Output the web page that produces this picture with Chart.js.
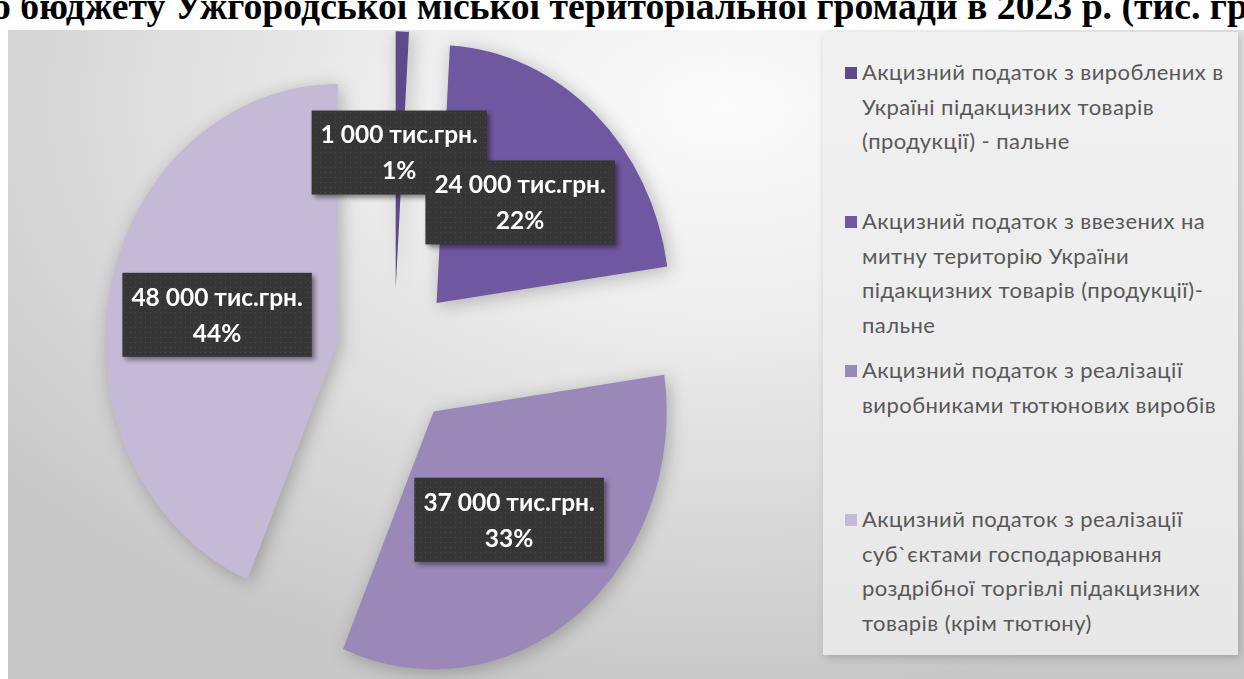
<!DOCTYPE html>
<html>
<head>
<meta charset="utf-8">
<script src="https://cdn.jsdelivr.net/npm/chart.js@4.4.0/dist/chart.umd.min.js"></script>
<style>
  html, body { margin: 0; padding: 0; width: 1244px; height: 679px; overflow: hidden; background: #fff; }
  #title {
    position: absolute; left: -27px; top: -16px; white-space: nowrap; line-height: 38px;
    font: bold 37.7px "Liberation Serif", "DejaVu Serif", serif; color: #000;
  }
  #panel {
    position: absolute; left: 8px; top: 30px; width: 1236px; height: 649px;
    background: radial-gradient(ellipse 75% 90% at 58% 12%, #fbfbfb 0%, #eeeeee 35%, #dcdcdc 65%, #c8c8c8 100%);
  }
  #chartBox { position: absolute; left: 8px; top: 30px; width: 772px; height: 649px; }
  #legend {
    position: absolute; left: 823px; top: 32px; width: 415px; height: 623px;
    background: linear-gradient(180deg, #f1f1f1 0%, #ececec 60%, #e7e7e7 100%);
    box-shadow: 2px 3px 8px rgba(0,0,0,0.18);
  }
  .item { position: absolute; left: 22px; font: 22px Lato, "Open Sans", sans-serif; letter-spacing: 0.45px; color: #585858; line-height: 34.5px; }
  .item .mk { position: absolute; left: 0; top: 12px; width: 12px; height: 12px; }
  .item .tx { margin-left: 17px; white-space: nowrap; }
</style>
</head>
<body>
<div id="title">до бюджету Ужгородської міської територіальної громади в 2023 р. (тис. грн.)</div>
<div id="panel"></div>
<div id="chartBox"><canvas id="chartAkcyz"></canvas></div>
<div id="legend"></div>
<script>
const categories = [
  ['Акцизний податок з вироблених в', 'Україні підакцизних товарів', '(продукції) - пальне'],
  ['Акцизний податок з ввезених на', 'митну територію України', 'підакцизних товарів (продукції)-', 'пальне'],
  ['Акцизний податок з реалізації', 'виробниками тютюнових виробів'],
  ['Акцизний податок з реалізації', 'суб`єктами господарювання', 'роздрібної торгівлі підакцизних', 'товарів (крім тютюну)']
];
const values = [1000, 24000, 37000, 48000];
const percents = [1, 22, 33, 44];
const unit = 'тис.грн.';

const colors = ['#5d4a89', '#6f58a0', '#9a88b8', '#c4bad6'];
const explode = [59, 63, 65, 57];
const scaleY = 1.107;

// legend
const legend = document.getElementById('legend');
categories.forEach((lines, i) => {
  const d = document.createElement('div');
  d.className = 'item';
  d.style.top = (23 + i * 149) + 'px';
  d.innerHTML = '<span class="mk" style="background:' + colors[i] + '"></span><div class="tx">' + lines.join('<br>') + '</div>';
  legend.appendChild(d);
});

function fmt(v) {
  return String(v).replace(/\B(?=(\d{3})+(?!\d))/g, ' ');
}

// dotted fill for label boxes
const pat = document.createElement('canvas');
pat.width = 5; pat.height = 5;
const pc = pat.getContext('2d');
pc.fillStyle = '#363636';
pc.fillRect(0, 0, 5, 5);
pc.fillStyle = '#4a4a4a';
pc.fillRect(2, 2, 1, 1);

const stretchAndLabels = {
  id: 'stretchAndLabels',
  beforeDatasetsDraw(chart) {
    const ctx = chart.ctx;
    const meta = chart.getDatasetMeta(0);
    // pull each slice out from the centre along its middle angle
    meta.data.forEach((el, i) => {
      if (el._exploded) return;
      const draw = el.draw;
      el.draw = function (c, area) {
        const mid = (this.startAngle + this.endAngle) / 2;
        c.save();
        c.translate(Math.cos(mid) * explode[i], Math.sin(mid) * explode[i]);
        draw.call(this, c, area);
        c.restore();
      };
      el._exploded = true;
    });
    const el = meta.data[0];
    ctx.save();
    ctx.translate(el.x, el.y);
    ctx.scale(1, scaleY);
    ctx.translate(-el.x, -el.y);
    ctx.shadowColor = 'rgba(0,0,0,0.25)';
    ctx.shadowBlur = 18;
    ctx.shadowOffsetX = 3;
    ctx.shadowOffsetY = 3;
  },
  afterDatasetsDraw(chart) {
    const ctx = chart.ctx;
    ctx.restore();
    const meta = chart.getDatasetMeta(0);
    ctx.font = 'bold 24.5px Lato, "Open Sans", sans-serif';
    ctx.textAlign = 'center';
    ctx.textBaseline = 'middle';
    meta.data.forEach((el, i) => {
      const mid = (el.startAngle + el.endAngle) / 2;
      const r = explode[i] + 0.53 * el.outerRadius;
      const px = el.x + Math.cos(mid) * r;
      const py = el.y + Math.sin(mid) * r * scaleY;
      const l1 = fmt(values[i]) + ' ' + unit;
      const l2 = percents[i] + '%';
      const w = Math.max(ctx.measureText(l1).width, ctx.measureText(l2).width) + 18;
      const h = 84;
      ctx.save();
      ctx.shadowColor = 'rgba(0,0,0,0.45)';
      ctx.shadowBlur = 5;
      ctx.shadowOffsetX = 3;
      ctx.shadowOffsetY = 3;
      ctx.fillStyle = ctx.createPattern(pat, 'repeat');
      ctx.fillRect(px - w / 2, py - h / 2, w, h);
      ctx.restore();
      ctx.fillStyle = '#ffffff';
      ctx.fillText(l1, px, py - 17);
      ctx.fillText(l2, px, py + 19);
    });
  }
};

const ctx = document.getElementById('chartAkcyz').getContext('2d');

const chartAkcyz = new Chart(ctx, {
  type: 'pie',
  data: {
    labels: categories,
    datasets: [{
      data: values,
      backgroundColor: colors,
      borderWidth: 0,
      hoverOffset: 0
    }]
  },
  options: {
    responsive: true,
    maintainAspectRatio: false,
    animation: false,
    radius: 233,
    plugins: {
      legend: { display: false },
      tooltip: { enabled: false }
    }
  },
  plugins: [stretchAndLabels]
});
</script>
</body>
</html>
